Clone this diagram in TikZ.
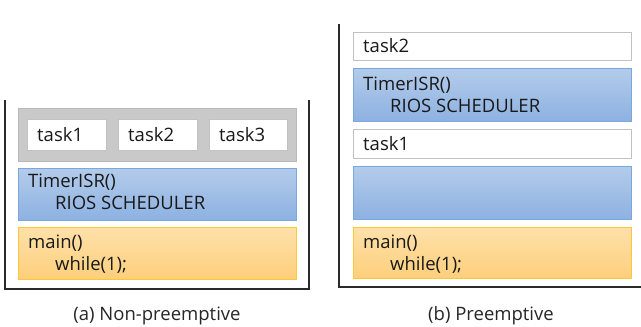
\documentclass[tikz,border=0pt]{standalone}
\usepackage{fontspec}
\setmainfont{Open Sans}
\definecolor{bluetop}{HTML}{B4CCEB}
\definecolor{bluebot}{HTML}{8DB1E1}
\definecolor{blueline}{HTML}{7AA8DE}
\definecolor{orgtop}{HTML}{FEE1AA}
\definecolor{orgbot}{HTML}{FDCF7C}
\definecolor{orgline}{HTML}{FFC63A}
\definecolor{grayfill}{HTML}{C9C9C9}
\definecolor{grayline}{HTML}{B9B9B9}
\definecolor{taskline}{HTML}{C2C2C2}
\definecolor{frame}{HTML}{2A2A2A}
\begin{document}
\begin{tikzpicture}[x=1pt,y=-1pt,
  box/.style={inner sep=0pt,outer sep=0pt},
  bluebox/.style={box,draw=blueline,line width=1pt,top color=bluetop,bottom color=bluebot},
  orgbox/.style={box,draw=orgline,line width=1pt,top color=orgtop,bottom color=orgbot},
  graybox/.style={box,draw=grayline,line width=1pt,fill=grayfill},
  taskbox/.style={box,draw=taskline,line width=1pt,fill=white},
  txt/.style={anchor=base west,inner sep=0pt,font=\fontsize{18.5}{22}\selectfont,text=black!90},
  captxt/.style={anchor=base,inner sep=0pt,font=\fontsize{18.5}{22}\selectfont,text=black!85},
  frameline/.style={draw=frame,line width=1.6pt}
]
\useasboundingbox (0,0) rectangle (641,327);
% ---------- left: non-preemptive ----------
\coordinate (LTL) at (5,100);
\coordinate (LBL) at (5,289);
\coordinate (LBR) at (309,289);
\coordinate (LTR) at (309,100);
\path[frameline] (LTL) -- (LBL) -- (LBR) -- (LTR);

\path[graybox] (18,108) rectangle (296,161) node[midway] (lgray) {};
\path[taskbox] (27,119) rectangle (106,150) node[midway] (lt1) {};
\path[taskbox] (118,119) rectangle (197,150) node[midway] (lt2) {};
\path[taskbox] (209,119) rectangle (287,150) node[midway] (lt3) {};
\node[txt] (lt1t) at (37,141) {task1};
\node[txt] (lt2t) at (128,141) {task2};
\node[txt] (lt3t) at (219,141) {task3};

\path[bluebox] (18,168) rectangle (296,220) node[midway] (lisr) {};
\node[txt] (lisrt) at (28,187) {TimerISR()};
\node[txt] (lrios) at (55,209) {RIOS SCHEDULER};

\path[orgbox] (18,227) rectangle (296,279) node[midway] (lmain) {};
\node[txt] (lmaint) at (28,248) {main()};
\node[txt] (lwhile) at (55,270) {while(1);};

\node[captxt] (capa) at (157,320) {(a) Non-preemptive};

% ---------- right: preemptive ----------
\coordinate (RTL) at (339,24);
\coordinate (RBL) at (339,287);
\coordinate (RBR) at (641,287);
\path[frameline] (RTL) -- (RBL) -- (RBR);

\path[taskbox] (353,32) rectangle (631,60) node[midway] (rt2) {};
\node[txt] (rt2t) at (363,52) {task2};

\path[bluebox] (353,68) rectangle (631,121) node[midway] (risr) {};
\node[txt] (risrt) at (363,90) {TimerISR()};
\node[txt] (rrios) at (390,112) {RIOS SCHEDULER};

\path[taskbox] (353,129) rectangle (631,158) node[midway] (rt1) {};
\node[txt] (rt1t) at (363,150) {task1};

\path[bluebox] (353,166) rectangle (631,219) node[midway] (risr2) {};

\path[orgbox] (353,227) rectangle (631,278) node[midway] (rmain) {};
\node[txt] (rmaint) at (363,248) {main()};
\node[txt] (rwhile) at (390,270) {while(1);};

\node[captxt] (capb) at (491,320) {(b) Preemptive};
\end{tikzpicture}
\end{document}
